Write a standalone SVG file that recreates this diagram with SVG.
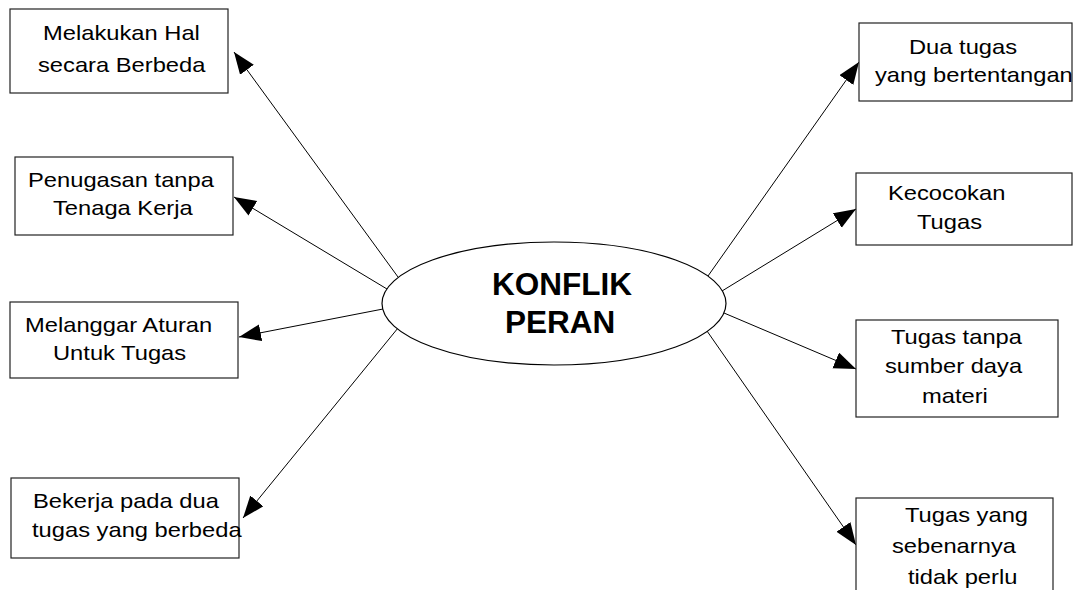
<svg xmlns="http://www.w3.org/2000/svg" width="1082" height="590" viewBox="0 0 1082 590">
<style>
.box{fill:#fff;stroke:#222;stroke-width:1.2}
.t{font-family:"Liberation Sans",Arial,sans-serif;font-size:21px;fill:#000}
.b{font-family:"Liberation Sans",Arial,sans-serif;font-size:31.5px;font-weight:bold;fill:#000}
.c{stroke:#000;stroke-width:1;fill:none;marker-end:url(#ah)}
</style>
<defs>
<marker id="ah" markerUnits="userSpaceOnUse" markerWidth="24" markerHeight="18" refX="22" refY="8.5" orient="auto">
<path d="M0,0 L22,8.5 L0,17 Z" fill="#000"/>
</marker>
</defs>
<rect width="1082" height="590" fill="#fff"/>
<g id="connectors">
<line class="c" x1="398" y1="277" x2="234" y2="52"/>
<line class="c" x1="387" y1="289" x2="234" y2="197"/>
<line class="c" x1="383" y1="309" x2="239" y2="337"/>
<line class="c" x1="398" y1="328" x2="243" y2="518"/>
<line class="c" x1="708" y1="276" x2="859" y2="62"/>
<line class="c" x1="722" y1="291" x2="856" y2="209"/>
<line class="c" x1="724" y1="313" x2="856" y2="369"/>
<line class="c" x1="707" y1="331" x2="856" y2="545"/>
</g>
<g id="center">
<ellipse cx="554" cy="303.5" rx="172" ry="61.5" fill="#fff" stroke="#000" stroke-width="1.2"/>
<text class="b" x="492" y="295">KONFLIK</text>
<text class="b" x="505" y="333">PERAN</text>
</g>
<g id="n1">
<rect class="box" x="10" y="9" width="218" height="84"/>
<text class="t" transform="scale(1.13,1)" x="38.05" y="40">Melakukan Hal</text>
<text class="t" transform="scale(1.13,1)" x="33.63" y="72">secara Berbeda</text>
</g>
<g id="n2">
<rect class="box" x="15" y="157" width="218" height="78"/>
<text class="t" transform="scale(1.13,1)" x="24.78" y="187">Penugasan tanpa</text>
<text class="t" transform="scale(1.13,1)" x="46.9" y="215">Tenaga Kerja</text>
</g>
<g id="n3">
<rect class="box" x="10" y="302" width="228" height="76"/>
<text class="t" transform="scale(1.13,1)" x="22.12" y="332">Melanggar Aturan</text>
<text class="t" transform="scale(1.13,1)" x="46.9" y="360">Untuk Tugas</text>
</g>
<g id="n4">
<rect class="box" x="11" y="478" width="228" height="80"/>
<text class="t" transform="scale(1.13,1)" x="29.2" y="508">Bekerja pada dua</text>
<text class="t" transform="scale(1.13,1)" x="28.32" y="537">tugas yang berbeda</text>
</g>
<g id="n5">
<rect class="box" x="859" y="23" width="213" height="78"/>
<text class="t" transform="scale(1.13,1)" x="804.42" y="54">Dua tugas</text>
<text class="t" transform="scale(1.13,1)" x="774.34" y="82">yang bertentangan</text>
</g>
<g id="n6">
<rect class="box" x="856" y="173" width="216" height="72"/>
<text class="t" transform="scale(1.13,1)" x="785.84" y="200">Kecocokan</text>
<text class="t" transform="scale(1.13,1)" x="811.5" y="229">Tugas</text>
</g>
<g id="n7">
<rect class="box" x="856" y="320" width="202" height="97"/>
<text class="t" transform="scale(1.13,1)" x="788.5" y="344">Tugas tanpa</text>
<text class="t" transform="scale(1.13,1)" x="783.19" y="373">sumber daya</text>
<text class="t" transform="scale(1.13,1)" x="815.93" y="403">materi</text>
</g>
<g id="n8">
<rect class="box" x="856" y="498" width="197" height="110"/>
<text class="t" transform="scale(1.13,1)" x="800.88" y="522">Tugas yang</text>
<text class="t" transform="scale(1.13,1)" x="789.38" y="553">sebenarnya</text>
<text class="t" transform="scale(1.13,1)" x="803.54" y="584">tidak perlu</text>
</g>
</svg>
